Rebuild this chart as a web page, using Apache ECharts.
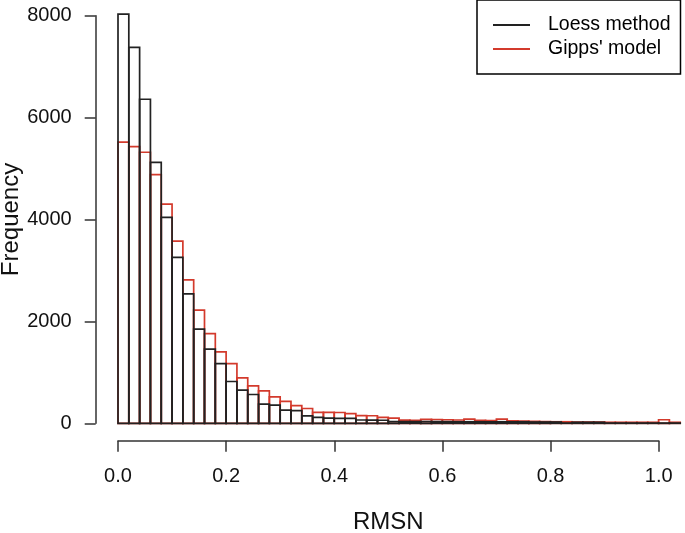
<!DOCTYPE html>
<html>
<head>
<meta charset="utf-8">
<script src="https://cdn.jsdelivr.net/npm/echarts@6/dist/echarts.min.js"></script>
<style>
  html, body { margin: 0; padding: 0; background: #fff; }
  #chart { width: 685px; height: 533px; }
</style>
</head>
<body>
<div id="chart"></div>
<script>
// histogram bins of RMSN, width 0.02, from 0 to 1.04
const binWidth = 0.02;
const loessCounts = [
  8030, 7380, 6360, 5120, 4040, 3255, 2540, 1850, 1455, 1170,
  820, 650, 565, 375, 355, 260, 250, 145, 118, 100,
  98, 95, 65, 62, 60, 35, 33, 33, 35, 33,
  32, 30, 30, 30, 28, 30, 28, 30, 25, 25,
  25, 5, 20, 20, 20, 5, 5, 5, 5, 5,
  5, 5
];
const gippsCounts = [
  5520, 5430, 5320, 4880, 4300, 3575, 2815, 2220, 1760, 1400,
  1170, 890, 735, 635, 520, 430, 345, 290, 216, 214,
  212, 190, 150, 148, 115, 100, 62, 60, 78, 75,
  70, 65, 80, 60, 55, 80, 50, 45, 40, 35,
  30, 30, 25, 25, 25, 20, 20, 20, 20, 20,
  70, 20
];
const xTicks = [0, 0.2, 0.4, 0.6, 0.8, 1.0];
const yTicks = [0, 2000, 4000, 6000, 8000];

const toBins = (counts) => counts.map((c, i) => [i * binWidth, (i + 1) * binWidth, c]);

const chart = echarts.init(document.getElementById("chart"));

function histRender(color) {
  return (params, api) => {
    const p0 = api.coord([api.value(0), api.value(2)]);
    const p1 = api.coord([api.value(1), 0]);
    return {
      type: "rect",
      shape: { x: p0[0], y: p0[1], width: p1[0] - p0[0], height: p1[1] - p0[1] },
      style: { fill: null, stroke: color, lineWidth: 1.7 },
    };
  };
}

const font = "'Liberation Sans', Arial, sans-serif";
const axisColor = "#333";
const hidden = { axisLine: { show: false }, axisTick: { show: false }, axisLabel: { show: false }, splitLine: { show: false } };

chart.setOption({
  animation: false,
  backgroundColor: "#fff",
  textStyle: { fontFamily: font, color: "#000" },
  legend: {
    orient: "vertical",
    left: 477,
    top: 0,
    padding: [15, 10, 15, 16],
    itemGap: 4,
    itemWidth: 37,
    itemHeight: 2,
    borderColor: "#000",
    borderWidth: 1.5,
    textStyle: { fontFamily: font, fontSize: 19.5, color: "#000", lineHeight: 20, padding: [0, 0, 0, 13] },
    data: [
      { name: "Loess method", icon: "rect", itemStyle: { color: "#222" } },
      { name: "Gipps' model", icon: "rect", itemStyle: { color: "#d33a2c" } },
    ],
  },
  grid: [
    // data area
    { left: 118, top: 15.7, width: 562.2, height: 407.6, outerBoundsMode: "none" },
    // detached x axis (R style), 0 to 1.0 only
    { left: 118, top: 15.7, width: 540.7, height: 425, outerBoundsMode: "none" },
    // detached y axis
    { left: 95.7, top: 15.7, width: 10, height: 407.6, outerBoundsMode: "none" },
  ],
  xAxis: [
    { gridIndex: 0, type: "value", min: 0, max: 1.04, ...hidden },
    {
      gridIndex: 1,
      type: "value",
      min: 0,
      max: 1,
      interval: 0.2,
      axisLine: { show: true, lineStyle: { color: axisColor, width: 1.5 } },
      axisTick: { show: true, length: 11, lineStyle: { color: axisColor, width: 1.5 } },
      axisLabel: {
        fontSize: 20, color: "#111", fontFamily: font, margin: 26,
        formatter: (v) => v.toFixed(1),
      },
      splitLine: { show: false },
      name: "RMSN",
      nameLocation: "middle",
      nameGap: 70,
      nameTextStyle: { fontSize: 24, color: "#111", fontFamily: font },
    },
    { gridIndex: 2, type: "value", min: 0, max: 1, ...hidden },
  ],
  yAxis: [
    { gridIndex: 0, type: "value", min: 0, max: 8000, ...hidden },
    { gridIndex: 1, type: "value", min: 0, max: 8000, ...hidden },
    {
      gridIndex: 2,
      type: "value",
      min: 0,
      max: 8000,
      interval: 2000,
      axisLine: { show: true, lineStyle: { color: axisColor, width: 1.5 } },
      axisTick: { show: true, length: 11, lineStyle: { color: axisColor, width: 1.5 } },
      axisLabel: { fontSize: 20, color: "#111", fontFamily: font, margin: 24, formatter: (v) => String(v) },
      splitLine: { show: false },
      name: "Frequency",
      nameLocation: "middle",
      nameGap: 62,
      nameTextStyle: { fontSize: 24, color: "#111", fontFamily: font },
    },
  ],
  series: [
    {
      name: "Gipps' model",
      type: "custom",
      xAxisIndex: 0,
      yAxisIndex: 0,
      renderItem: histRender("#d33a2c"),
      encode: { x: [0, 1], y: 2 },
      data: toBins(gippsCounts),
      z: 2,
    },
    {
      name: "Loess method",
      type: "custom",
      xAxisIndex: 0,
      yAxisIndex: 0,
      renderItem: histRender("#222"),
      encode: { x: [0, 1], y: 2 },
      data: toBins(loessCounts),
      z: 3,
    },
  ],
});
</script>
</body>
</html>
